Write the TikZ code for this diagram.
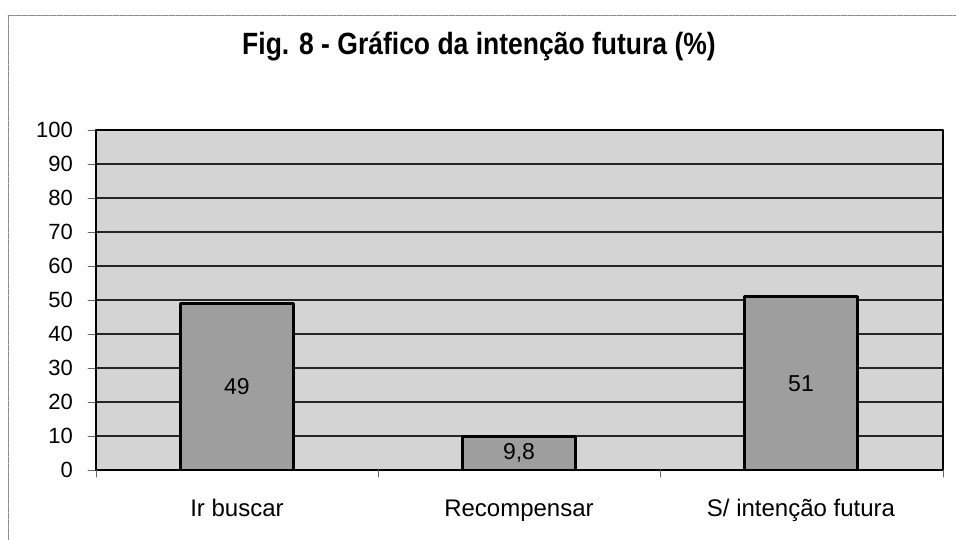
\documentclass[tikz,border=0pt]{standalone}
\usepackage{fontspec}
\setmainfont{Liberation Sans}
\usetikzlibrary{positioning}
\tikzset{
  every node/.style={inner sep=0pt},
  ticklabel/.style={font=\fontsize{22}{24}\selectfont,anchor=east},
  catlabel/.style={font=\fontsize{24}{26}\selectfont,anchor=base},
  vallabel/.style={font=\fontsize{23}{26}\selectfont},
  plotbg/.style={fill=black!17},
  barfill/.style={fill=black!38,draw=black,line width=2.6pt},
  grid line/.style={line width=1.1pt,black!85},
  scan edge/.style={line width=0.7pt,black!45,dash pattern=on 6pt off 1pt},
}
\begin{document}
\begin{tikzpicture}[x=1pt,y=-1pt,line cap=round,line join=round]
  \useasboundingbox (0,0) rectangle (956,540);
  % scanned page edge
  \draw[scan edge] (8,540)--(8,15)--(956,15);
  % title
  \node[font=\fontsize{26.5}{30}\selectfont\bfseries,anchor=base] (title) at (479,55)
    {\scalebox{1}[1.16]{Fig. 8 - Gráfico da intenção futura (\%)}};
  % plot area and grid
  \fill[plotbg] (96,130) rectangle (943,470);
  \foreach \v in {0,10,...,100}{
    \draw[grid line] (96,470-3.4*\v)--(943,470-3.4*\v);
    \draw[line width=0.8pt,black!60] (88,470-3.4*\v)--(96,470-3.4*\v);
    \node[ticklabel] (y\v) at (73,470-3.4*\v) {\v};
  }
  \draw[line width=1.3pt] (96,130)--(943,130)--(943,470);
  \draw[line width=1.5pt] (96,130)--(96,470)--(943,470);
  \foreach \t in {96,378.3,660.7,943}
    \draw[line width=0.8pt,black!60] (\t,470)--(\t,477);
  % bars
  \foreach \c/\v/\lbl/\cat [count=\i] in
    {237/49/49/Ir buscar,519/9.8/{9,8}/Recompensar,801/51/51/{S/ intenção futura}}{
    \draw[barfill] (\c-56.5,470) rectangle (\c+56.5,470-3.4*\v);
    \node[vallabel] (val\i) at (\c,470-1.7*\v) {\lbl};
    \node[catlabel] (cat\i) at (\c,516) {\cat};
  }
\end{tikzpicture}
\end{document}
